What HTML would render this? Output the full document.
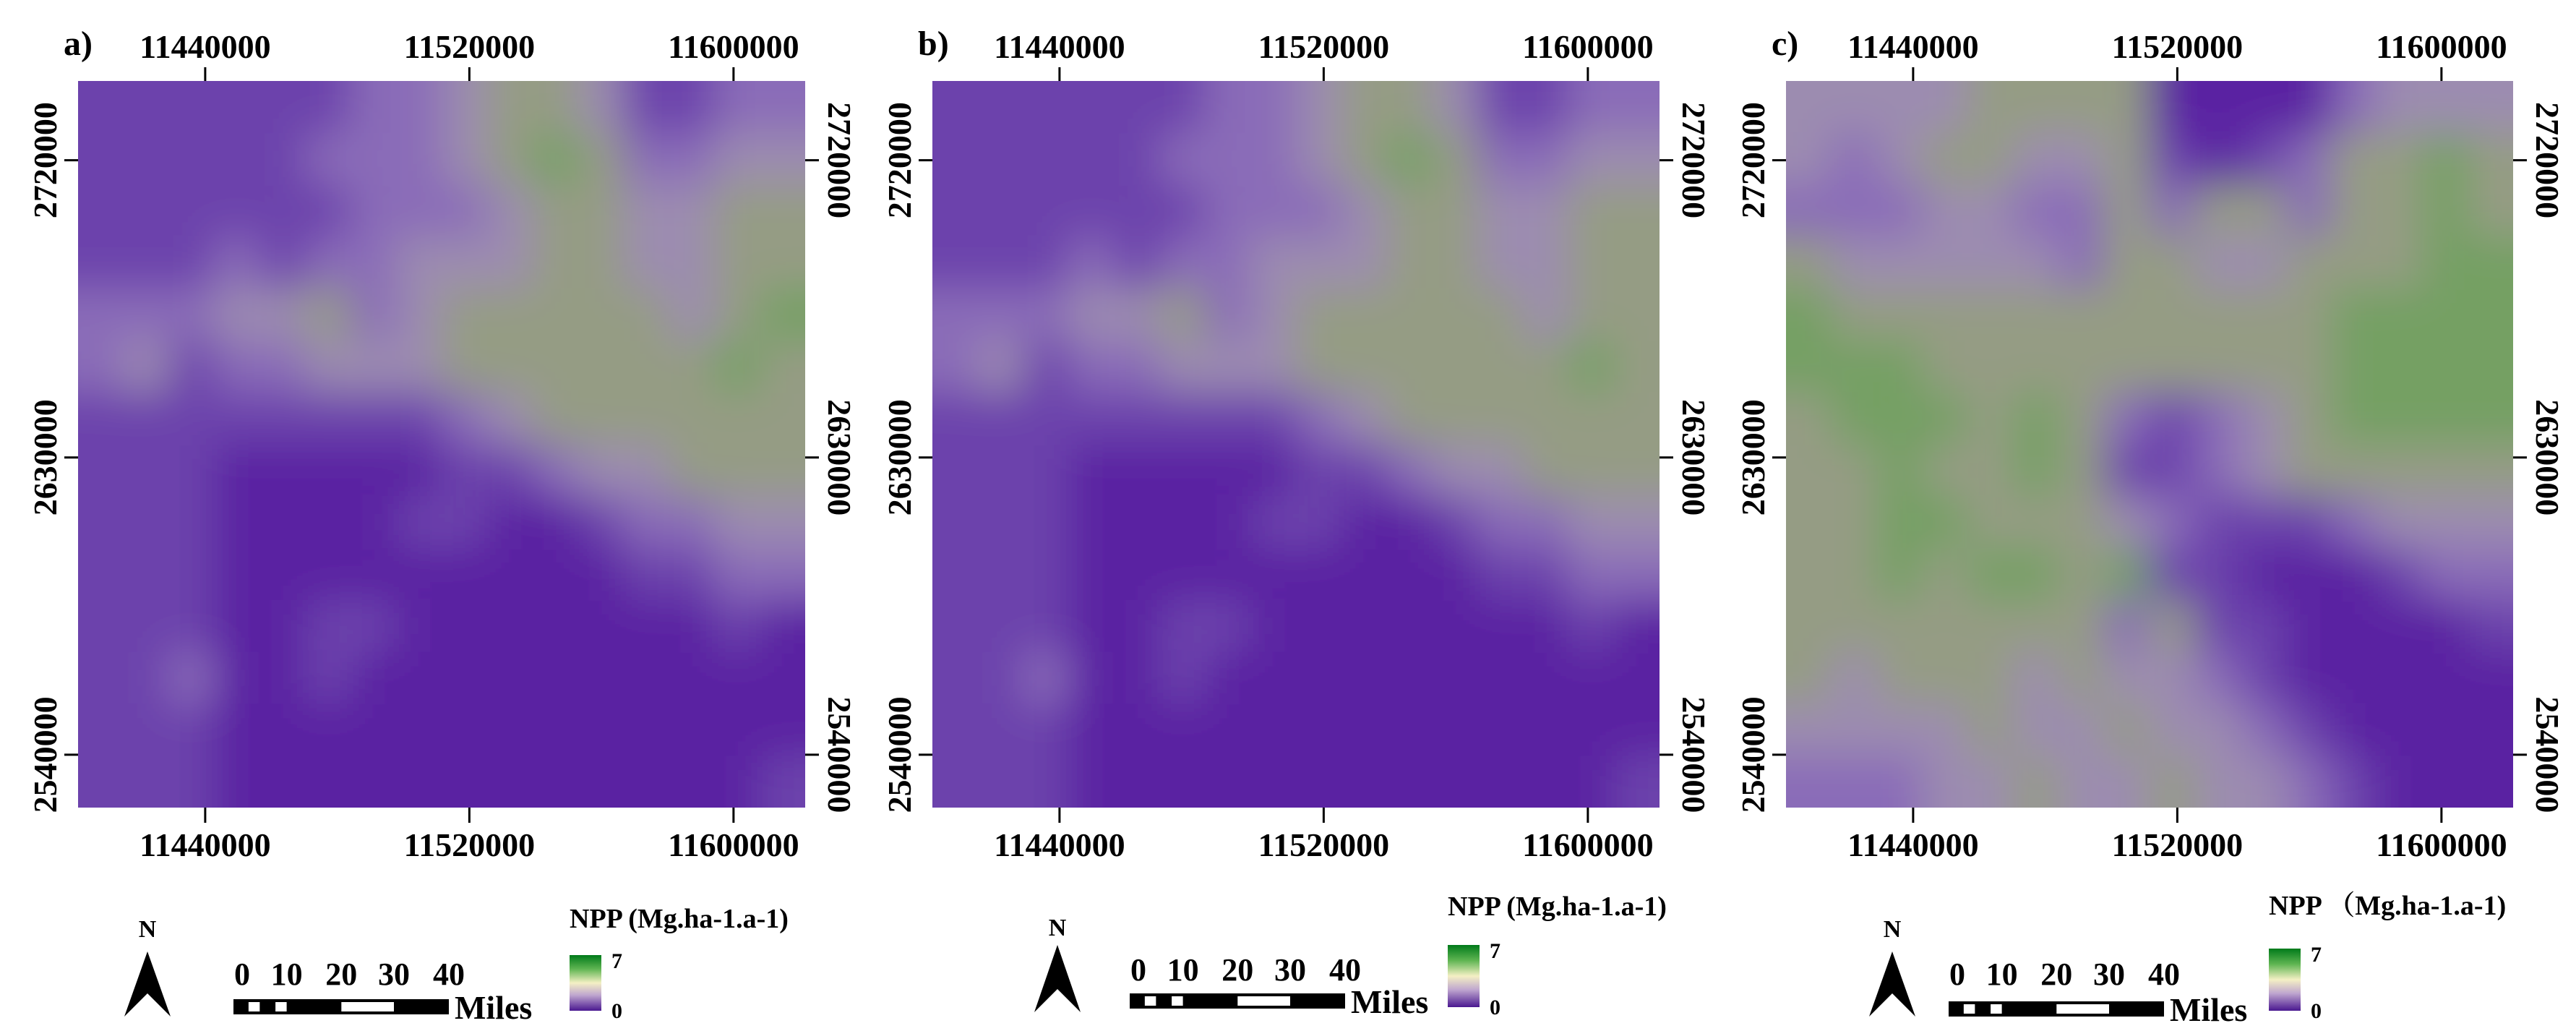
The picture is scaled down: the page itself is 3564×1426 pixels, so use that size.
<!DOCTYPE html>
<html><head><meta charset="utf-8"><style>
html,body{margin:0;padding:0;background:#fff;}
svg{display:block;}
text{font-family:"Liberation Serif","Noto Serif CJK SC",serif;font-weight:bold;fill:#000;}
</style></head><body>
<svg id="fig" width="3564" height="1426" viewBox="0 0 3564 1426" xmlns="http://www.w3.org/2000/svg">
<defs>
<filter id="blur" x="-5%" y="-5%" width="110%" height="110%"><feGaussianBlur stdDeviation="30"/></filter>
<linearGradient id="cbar" x1="0" y1="0" x2="0" y2="1">
<stop offset="0" stop-color="#007a1a"/><stop offset="0.25" stop-color="#5fb552"/>
<stop offset="0.5" stop-color="#f4f0c4"/><stop offset="0.72" stop-color="#bfa6cf"/>
<stop offset="1" stop-color="#4a1890"/></linearGradient>
</defs>
</svg>
<script>
const xTickLabels=["11440000","11520000","11600000"];
const yTickLabels=["2720000","2630000","2540000"];
const xTickValues=[11440000,11520000,11600000];
const yTickValues=[2720000,2630000,2540000];
const panelLabels=["a)","b)","c)"];
const legendTitles=["NPP (Mg.ha-1.a-1)","NPP (Mg.ha-1.a-1)","NPP （Mg.ha-1.a-1)"];
const scaleLabels=["0","10","20","30","40"];
const cbarLabels=["7","0"];
const gridA=[
"2222223345542233","2222233345653344","2222223334554455","2223233444554455",
"3334453455555456","3423344455555565","2222222234555555","2221111122344555",
"2221111221123344","2221111111112233","2221122111111121","2231121111111111",
"2221111111111111","2221111111111112"];
const gridB=[
"2222223345542233","2222233345653344","2222223334554455","2223233444554455",
"3334453455555455","3423344455555565","2222222234555555","2221111122344555",
"2221111221123344","2221111111112233","2221122111111121","2231121111111111",
"2221111111111111","2221111111111112"];
const gridC=[
"4444555511113444","4345544521235565","3334433535535565","5444443554455566",
"6555555555556666","6665555555556666","5666565323456666","5565565223455555",
"5566555432223444","5565665622111233","5555555352211112","5455545443211111",
"4444544544321111","3334454454432111"];
const grids=[gridA,gridB,gridC];

const svg=document.getElementById('fig');
const NS='http://www.w3.org/2000/svg';
const palette=["#4a1890","#5a22a2","#6c42ac","#8a6cb8","#9c8cb0","#959c84","#74a064","#3f9a3f","#1e8c2c","#007a1a"];
const panels=[{x0:108},{x0:1290},{x0:2471}];
const mapTop=112,mapW=1006,mapH=1005;
const xMin=11401500,xMax=11621700;
const yMax=2744000,yMin=2524000;
function xScale(p,v){return panels[p].x0+(v-xMin)/(xMax-xMin)*mapW;}
function yScale(v){return mapTop+(yMax-v)/(yMax-yMin)*mapH;}
function mk(tag,attrs,parent){const e=document.createElementNS(NS,tag);for(const k in attrs)e.setAttribute(k,attrs[k]);(parent||svg).appendChild(e);return e;}
function txt(s,attrs,parent){const e=mk('text',attrs,parent);e.textContent=s;return e;}

const legendPos=[
 {nx:204,ny:1284,at:1316,ab:1406,bx:323,by:1382,numy:1362,cx:788,cy:1321,cb:1398,ty:1283},
 {nx:1463,ny:1282,at:1307,ab:1400,bx:1563,by:1374,numy:1356,cx:2003,cy:1307,cb:1393,ty:1266},
 {nx:2618,ny:1284,at:1316,ab:1406,bx:2696,by:1385,numy:1362,cx:3139,cy:1312,cb:1398,ty:1265}];

grids.forEach((g,p)=>{
  const x0=panels[p].x0;
  const grp=mk('g',{});
  
  
  const cp=mk('clipPath',{id:'clip'+p},svg);
  mk('rect',{x:x0,y:mapTop,width:mapW,height:mapH},cp);
  const cells=mk('g',{'clip-path':'url(#clip'+p+')'},grp);
  const inner=mk('g',{filter:'url(#blur)'},cells);
  const rows=g.length,cols=g[0].length;
  const cw=mapW/cols,ch=mapH/rows;
  for(let r=0;r<rows;r++)for(let c=0;c<cols;c++){
    const v=+g[r][c];
    let x=x0+c*cw,y=mapTop+r*ch,w=cw+1,h=ch+1;
    if(c===0){x-=80;w+=80;} if(c===cols-1){w+=80;}
    if(r===0){y-=80;h+=80;} if(r===rows-1){h+=80;}
    const rc=mk('rect',{x:x,y:y,width:w,height:h,fill:palette[v]},inner);
    
    
  }
  const pl=txt(panelLabels[p],{x:x0-20,y:76,'font-size':48},grp);
  
  
  xTickValues.forEach((v,i)=>{
    const x=xScale(p,v);
    mk('line',{x1:x,x2:x,y1:mapTop-19,y2:mapTop,stroke:'#000','stroke-width':3},grp);
    mk('line',{x1:x,x2:x,y1:mapTop+mapH,y2:mapTop+mapH+21,stroke:'#000','stroke-width':3},grp);
    const t1=txt(xTickLabels[i],{x:x,y:80,'text-anchor':'middle','font-size':46},grp);
    
    
    const t2=txt(xTickLabels[i],{x:x,y:1184,'text-anchor':'middle','font-size':46},grp);
    
    
  });
  yTickValues.forEach((v,i)=>{
    const y=yScale(v);
    mk('line',{x1:x0-19,x2:x0,y1:y,y2:y,stroke:'#000','stroke-width':3},grp);
    mk('line',{x1:x0+mapW,x2:x0+mapW+19,y1:y,y2:y,stroke:'#000','stroke-width':3},grp);
    const lx=x0-30;
    const t1=txt(yTickLabels[i],{x:0,y:0,'text-anchor':'middle','font-size':46,transform:`translate(${lx},${y}) rotate(-90)`},grp);
    
    
    const rx=x0+mapW+32;
    const t2=txt(yTickLabels[i],{x:0,y:0,'text-anchor':'middle','font-size':46,transform:`translate(${rx},${y}) rotate(90)`},grp);
    
    
  });
  const L=legendPos[p];
  const na=mk('g',{},grp);
  
  
  txt('N',{x:L.nx,y:L.ny+12,'text-anchor':'middle','font-size':34,'font-weight':'normal'},na);
  mk('polygon',{points:`${L.nx},${L.at} ${L.nx-32},${L.ab} ${L.nx},${L.ab-32} ${L.nx+32},${L.ab}`,fill:'#000'},na);
  const sb=mk('g',{},grp);
  
  
  const bw=298,bh=21;
  mk('rect',{x:L.bx,y:L.by,width:bw,height:bh,fill:'#000'},sb);
  [[0.07,0.122],[0.195,0.247],[0.501,0.745]].forEach(s=>{
    mk('rect',{x:L.bx+s[0]*bw,y:L.by+4,width:(s[1]-s[0])*bw,height:bh-8,fill:'#fff'},sb);
  });
  const pos=[0,0.247,0.501,0.745,1.0];
  scaleLabels.forEach((s,i)=>{
    txt(s,{x:L.bx+pos[i]*bw+(i===0?12:0),y:L.numy,'text-anchor':'middle','font-size':44},sb);
  });
  txt('Miles',{x:L.bx+bw+8,y:L.by+bh+6,'font-size':46},sb);
  const lg=mk('g',{},grp);
  
  
  txt(legendTitles[p],{x:L.cx,y:L.ty,'font-size':38},lg);
  mk('rect',{x:L.cx,y:L.cy,width:44,height:L.cb-L.cy,fill:'url(#cbar)'},lg);
  txt(cbarLabels[0],{x:L.cx+58,y:L.cy+18,'font-size':30},lg);
  txt(cbarLabels[1],{x:L.cx+58,y:L.cb+10,'font-size':30},lg);
});
</script>
</body></html>
